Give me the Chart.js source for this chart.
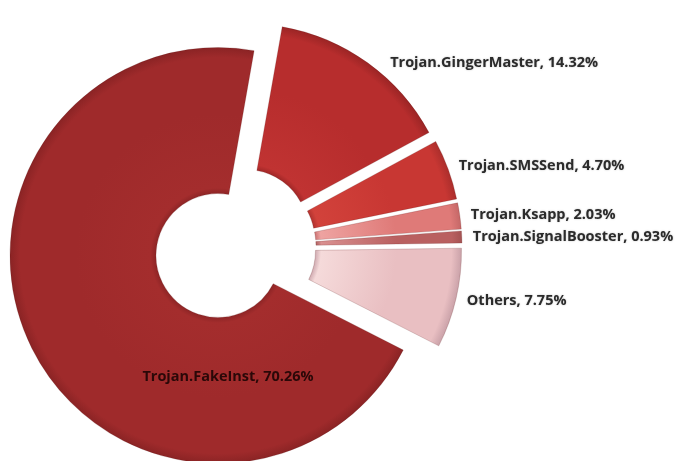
<!DOCTYPE html>
<html>
<head>
<meta charset="utf-8">
<title>Trojan share</title>
<script src="https://cdn.jsdelivr.net/npm/chart.js@4.4.1/dist/chart.umd.min.js"></script>
<style>
  html, body { margin: 0; padding: 0; background: #fff; }
  #wrap { width: 677px; height: 461px; position: relative; }
</style>
</head>
<body>
<div id="wrap"><canvas id="myChart"></canvas></div>
<script>
// categories and their shares (%), clockwise from the top
var categories = ["Trojan.GingerMaster", "Trojan.SMSSend", "Trojan.Ksapp", "Trojan.SignalBooster", "Others", "Trojan.FakeInst"];
var shares = [14.32, 4.70, 2.03, 0.93, 7.75, 70.26];

// shading per slice: inner, middle, rim
var shades = [
  ["#c03332", "#b72d2d", "#952323"],
  ["#d2423b", "#c83733", "#a52c2a"],
  ["#eea3a1", "#df7a78", "#c06464"],
  ["#d99090", "#b96060", "#a05050"],
  ["#f5dada", "#e9bfc2", "#c49ca4"],
  ["#a42d2d", "#9f2a2b", "#862223"]
];

function sliceFill(context) {
  var chart = context.chart;
  var area = chart.chartArea;
  var s = shades[context.dataIndex];
  if (!area) return s[1];
  var cx = (area.left + area.right) / 2;
  var cy = (area.top + area.bottom) / 2;
  var g = chart.ctx.createRadialGradient(cx, cy, 60, cx, cy, 210);
  g.addColorStop(0, s[2]);
  g.addColorStop(0.05, s[0]);
  g.addColorStop(0.55, s[1]);
  g.addColorStop(0.92, s[1]);
  g.addColorStop(1, s[2]);
  return g;
}

// push every slice away from the centre (Excel-style explosion)
var explodePlugin = {
  id: "explode",
  beforeDatasetDraw: function(chart, args, opts) {
    var ctx = chart.ctx;
    args.meta.data.forEach(function(arc) {
      var mid = (arc.startAngle + arc.endAngle) / 2;
      ctx.save();
      ctx.translate(Math.cos(mid) * opts.distance, Math.sin(mid) * opts.distance);
      arc.draw(ctx);
      ctx.restore();
    });
    return false;
  }
};

// "name, value%" labels
var labelPlugin = {
  id: "sliceLabels",
  afterDraw: function(chart, args, opts) {
    var ctx = chart.ctx;
    var arcs = chart.getDatasetMeta(0).data;
    var biggest = shares.indexOf(Math.max.apply(null, shares));
    ctx.save();
    ctx.font = opts.font;
    ctx.textBaseline = "middle";
    arcs.forEach(function(arc, i) {
      var text = categories[i] + ", " + shares[i].toFixed(2) + "%";
      var mid = (arc.startAngle + arc.endAngle) / 2;
      var nudge = opts.nudges[categories[i]] || [0, 0];
      if (i === biggest) {
        ctx.textAlign = "center";
        ctx.fillStyle = "#2a0808";
        ctx.fillText(text, arc.x - 7, arc.y + (arc.innerRadius + arc.outerRadius) / 2 - 5);
      } else {
        var r = arc.outerRadius + opts.gap;
        ctx.textAlign = "left";
        ctx.fillStyle = "#2b2b2b";
        ctx.shadowColor = "rgba(0,0,0,0.25)";
        ctx.shadowBlur = 2;
        ctx.fillText(text, arc.x + Math.cos(mid) * r + nudge[0], arc.y + Math.sin(mid) * r + nudge[1]);
        ctx.shadowBlur = 0;
      }
    });
    ctx.restore();
  }
};

var ctx1 = document.getElementById("myChart");

var chart1 = new Chart(ctx1, {
  type: "doughnut",
  data: {
    labels: categories,
    datasets: [
      {
        data: shares,
        backgroundColor: sliceFill,
        borderColor: "rgba(90,20,20,0.2)",
        borderWidth: 1,
        clip: false
      }
    ]
  },
  options: {
    responsive: true,
    maintainAspectRatio: false,
    animation: false,
    devicePixelRatio: 1,
    rotation: 10,
    radius: 208,
    cutout: "29.8%",
    layout: {
      padding: { left: 0, right: 207, top: 33, bottom: 0 }
    },
    plugins: {
      legend: { display: false },
      tooltip: { enabled: false },
      explode: { distance: 19 },
      sliceLabels: {
        font: "bold 14.5px 'Open Sans'",
        gap: 30,
        nudges: { "Trojan.GingerMaster": [16, 9] }
      }
    }
  },
  plugins: [explodePlugin, labelPlugin]
});
</script>
</body>
</html>
